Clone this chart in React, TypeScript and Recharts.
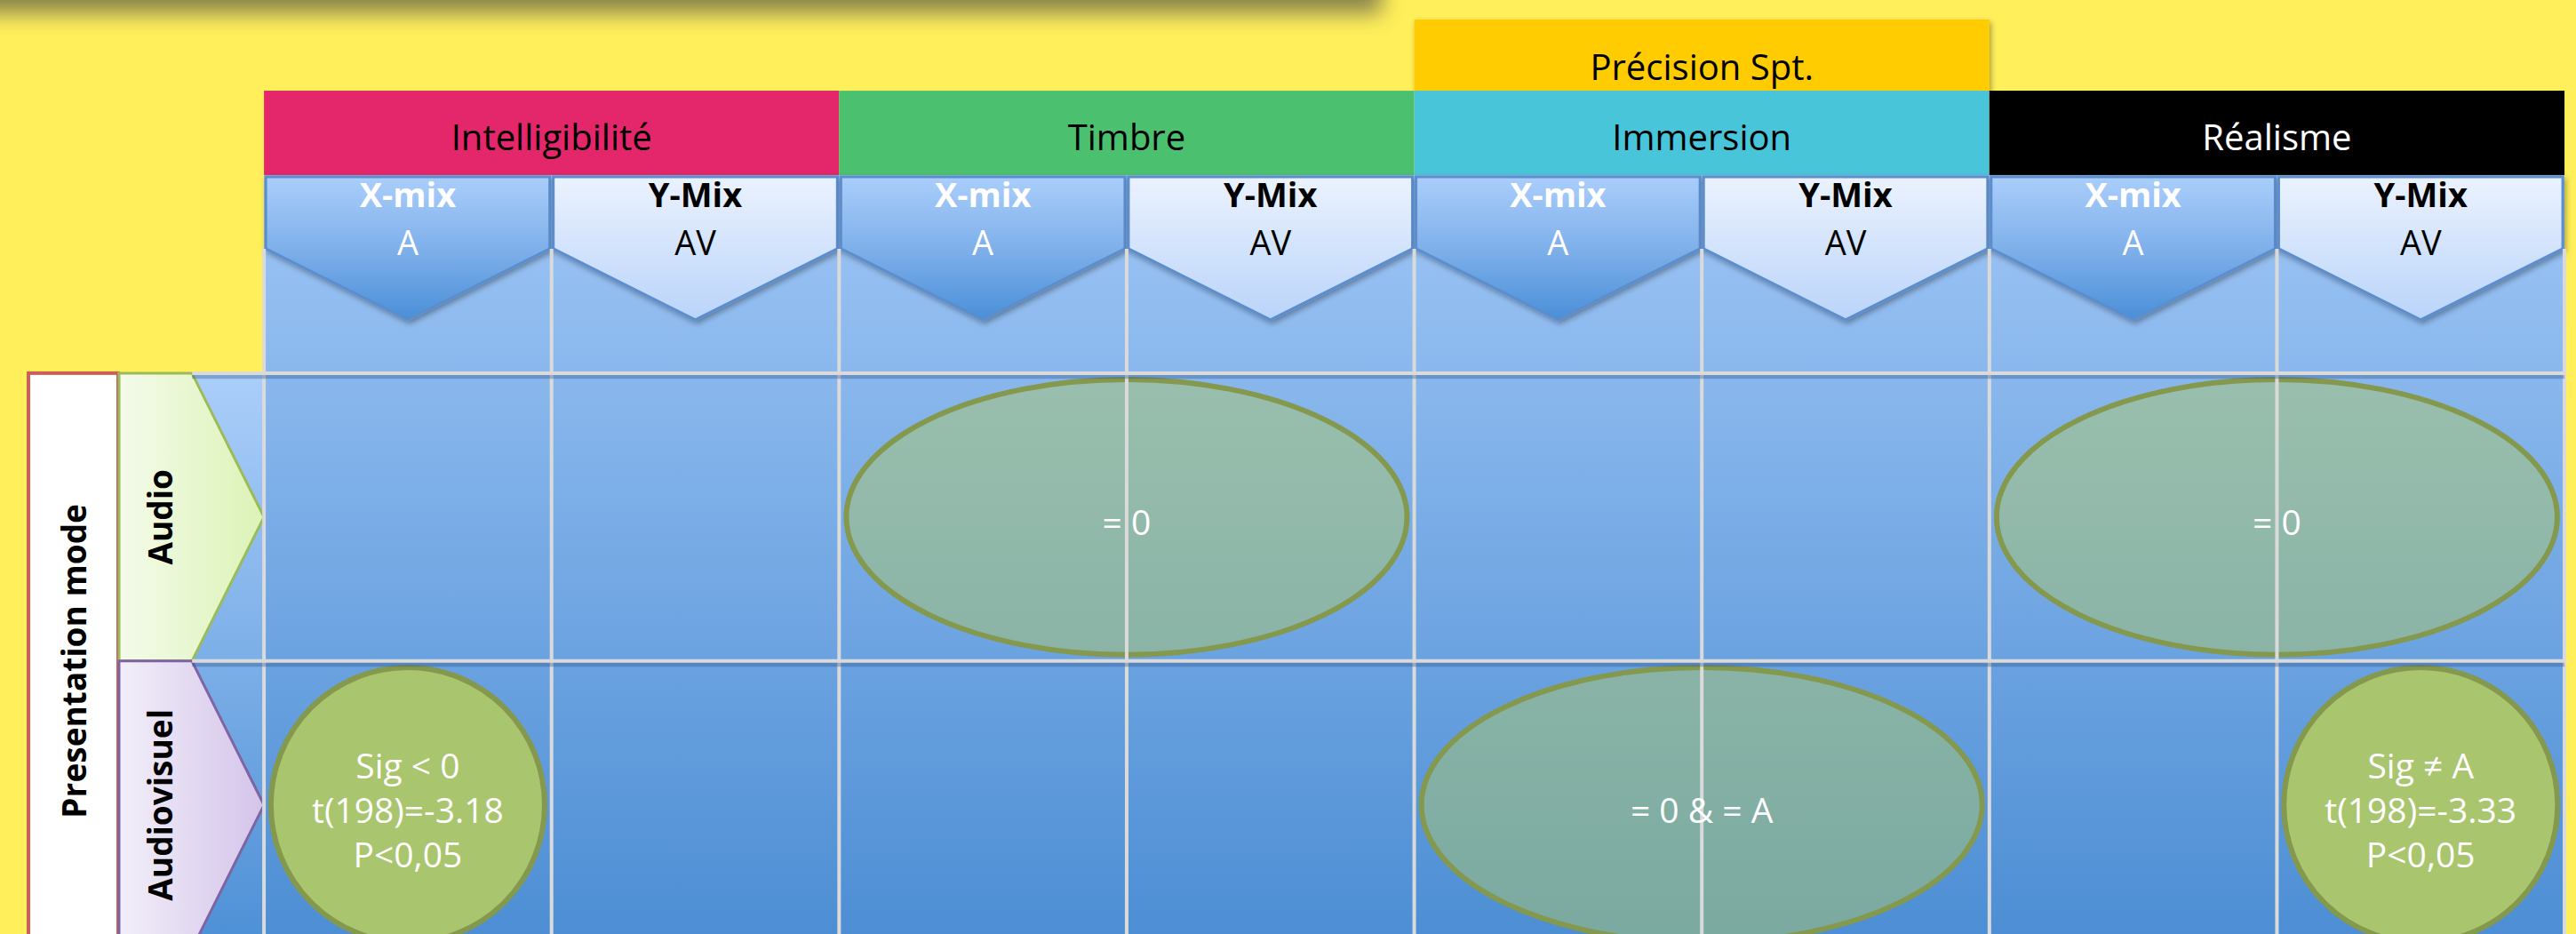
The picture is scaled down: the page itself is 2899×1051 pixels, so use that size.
import { ComposedChart, XAxis, YAxis, ReferenceArea, ReferenceLine, Scatter } from 'recharts'

// criteria (each one spans two mix columns)
const CRITERIA = ['Intelligibilité', 'Timbre', 'Immersion', 'Réalisme']
const CRITERIA_FILL = ['#E4266B', '#4BC16F', '#49C5DA', '#000000']
const CRITERIA_INK = ['#000000', '#000000', '#000000', '#FFFFFF']
const SUPER_LABEL = 'Précision Spt.'
const SUPER_OVER = 'Immersion'

const MIXES = ['X-mix', 'Y-Mix']
const MIX_MODES = ['A', 'AV']

const FACTOR = 'Presentation mode'
const MODES = ['Audio', 'Audiovisuel']
const MODE_FILL = ['url(#modeAudio)', 'url(#modeAV)']
const MODE_STROKE = ['#9BBB59', '#8064A2']

// span: 'group' covers both mixes of a criterion, 'cell' one mix only
const RESULTS = [
  { criterion: 'Timbre', mode: 'Audio', span: 'group', mix: null, kind: 'ns', lines: ['= 0'] },
  { criterion: 'Réalisme', mode: 'Audio', span: 'group', mix: null, kind: 'ns', lines: ['= 0'] },
  { criterion: 'Intelligibilité', mode: 'Audiovisuel', span: 'cell', mix: 'X-mix', kind: 'sig', lines: ['Sig < 0', 't(198)=-3.18', 'P<0,05'] },
  { criterion: 'Immersion', mode: 'Audiovisuel', span: 'group', mix: null, kind: 'ns', lines: ['= 0 & = A'] },
  { criterion: 'Réalisme', mode: 'Audiovisuel', span: 'cell', mix: 'Y-Mix', kind: 'sig', lines: ['Sig ≠ A', 't(198)=-3.33', 'P<0,05'] },
]

// layout: x unit = one mix column, y unit = one presentation-mode row
const W = 2899
const H = 1051
const X_DOMAIN: [number, number] = [-0.918, 8.04]
const Y_DOMAIN: [number, number] = [-1.296, 1.948]
const Y_SUPER = [-1.228, -0.981]
const Y_HEAD = [-0.981, -0.688]
const Y_SUB = [-0.688, 0]
const Y_CHEV_SIDE = -0.432
const X_FACTOR = [-0.819, -0.507]
const X_MODE = [-0.504, 0]
const RX = { group: 0.975, cell: 0.476 }
const RY = 0.478
const FONT = "'Open Sans', sans-serif"

const NCOL = CRITERIA.length * MIXES.length

function centerX(r: typeof RESULTS[number]) {
  const g = CRITERIA.indexOf(r.criterion) * MIXES.length
  return r.span === 'group' ? g + MIXES.length / 2 : g + MIXES.indexOf(r.mix as string) + 0.5
}

const labelPoints = RESULTS.map((r) => ({ x: centerX(r), y: MODES.indexOf(r.mode) + 0.5, lines: r.lines }))

function Defs() {
  return (
    <defs>
      <linearGradient id="gridBg" x1="0" y1="0" x2="0" y2="1">
        <stop offset="0" stopColor="#9FC6F6" />
        <stop offset="1" stopColor="#4D8ED4" />
      </linearGradient>
      <linearGradient id="stripBg" x1="0" y1="0" x2="0" y2="1">
        <stop offset="0" stopColor="#ABCEFA" />
        <stop offset="1" stopColor="#4F91D6" />
      </linearGradient>
      <linearGradient id="chevA" x1="0" y1="0" x2="0" y2="1">
        <stop offset="0" stopColor="#AACEFB" />
        <stop offset="0.5" stopColor="#7FB0EA" />
        <stop offset="1" stopColor="#4A8FD8" />
      </linearGradient>
      <linearGradient id="chevAV" x1="0" y1="0" x2="0" y2="1">
        <stop offset="0" stopColor="#EBF2FE" />
        <stop offset="1" stopColor="#BAD4FA" />
      </linearGradient>
      <linearGradient id="modeAudio" x1="0" y1="0" x2="1" y2="0">
        <stop offset="0" stopColor="#F4FBEA" />
        <stop offset="1" stopColor="#DCF3B6" />
      </linearGradient>
      <linearGradient id="modeAV" x1="0" y1="0" x2="1" y2="0">
        <stop offset="0" stopColor="#F2EFF9" />
        <stop offset="1" stopColor="#D4C4EA" />
      </linearGradient>
      <filter id="soft" x="-10%" y="-10%" width="120%" height="130%">
        <feDropShadow dx="2" dy="3" stdDeviation="3" floodColor="#000" floodOpacity="0.35" />
      </filter>
      <filter id="blurTop" x="-20%" y="-200%" width="140%" height="500%">
        <feGaussianBlur stdDeviation="12" />
      </filter>
    </defs>
  )
}

function TopShadow(p: any) {
  return (
    <g>
      <Defs />
      <rect x={p.x - 40} y={p.y - 60} width={p.width + 40} height={p.height + 60} fill="#4A4A44" opacity={0.65} filter="url(#blurTop)" />
    </g>
  )
}

function Fill(fill: string) {
  return (p: any) => <rect x={p.x} y={p.y} width={p.width} height={p.height} fill={fill} />
}

function HeadCell(label: string, fill: string, ink: string, base: number, shadow = false) {
  return (p: any) => (
    <g>
      <rect x={p.x} y={p.y} width={p.width} height={p.height} fill={fill} filter={shadow ? 'url(#soft)' : undefined} />
      <text x={p.x + p.width / 2} y={p.y + p.height * base} textAnchor="middle" fontFamily={FONT} fontSize={40} fill={ink}>
        {label}
      </text>
    </g>
  )
}

function Chevron(mix: number) {
  return (p: any) => {
    const l = p.x + 2
    const r = p.x + p.width - 2
    const t = p.y + 2
    const side = p.y + p.height * 0.372
    const tip = p.y + p.height * 0.731
    const cx = p.x + p.width / 2
    const ink = mix === 0 ? '#FFFFFF' : '#000000'
    return (
      <g>
        <polygon
          points={`${l},${t} ${r},${t} ${r},${side} ${cx},${tip} ${l},${side}`}
          fill={mix === 0 ? 'url(#chevA)' : 'url(#chevAV)'}
          stroke="#5B8DCD"
          strokeWidth={3}
          filter="url(#soft)"
        />
        <text x={cx} y={p.y + 36} textAnchor="middle" fontFamily={FONT} fontWeight={700} fontSize={38} fill={ink}>
          {MIXES[mix]}
        </text>
        <text x={cx} y={p.y + 90} textAnchor="middle" fontFamily={FONT} fontSize={38} fill={ink}>
          {MIX_MODES[mix]}
        </text>
      </g>
    )
  }
}

function FactorBox(p: any) {
  const cx = p.x + p.width / 2
  const cy = p.y + p.height / 2
  return (
    <g>
      <rect x={p.x} y={p.y} width={p.width} height={p.height} fill="#FFFFFF" stroke="#C9605A" strokeWidth={4} />
      <text x={cx} y={cy} transform={`rotate(-90 ${cx} ${cy})`} textAnchor="middle" dominantBaseline="central" fontFamily={FONT} fontWeight={700} fontSize={37} fill="#000">
        {FACTOR}
      </text>
    </g>
  )
}

function ModeTab(i: number) {
  return (p: any) => {
    const { x, y, width: w, height: h } = p
    const s = x + w * 0.503
    const tx = x + w * 0.28
    const ty = y + h / 2
    return (
      <g>
        <polygon points={`${x},${y} ${s},${y} ${x + w},${y + h / 2} ${s},${y + h} ${x},${y + h}`} fill={MODE_FILL[i]} stroke={MODE_STROKE[i]} strokeWidth={3} />
        <text x={tx} y={ty} transform={`rotate(-90 ${tx} ${ty})`} textAnchor="middle" dominantBaseline="central" fontFamily={FONT} fontWeight={700} fontSize={37} fill="#000">
          {MODES[i]}
        </text>
      </g>
    )
  }
}

function Bubble(kind: string) {
  return (p: any) => (
    <ellipse
      cx={p.x + p.width / 2}
      cy={p.y + p.height / 2}
      rx={p.width / 2}
      ry={p.height / 2}
      fill="#A9C56E"
      fillOpacity={kind === 'sig' ? 1 : 0.5}
      stroke="#84994E"
      strokeWidth={6}
    />
  )
}

function BubbleText(p: any) {
  const lines: string[] = p.payload.lines
  const n = lines.length
  return (
    <text textAnchor="middle" fontFamily={FONT} fontSize={39} fill="#FFFFFF">
      {lines.map((s, i) => (
        <tspan key={i} x={p.cx} y={p.cy + (i - (n - 1) / 2) * 50 + 5} dominantBaseline="central">
          {s}
        </tspan>
      ))}
    </text>
  )
}

export default function App() {
  const sup = CRITERIA.indexOf(SUPER_OVER) * MIXES.length
  const cols = Array.from({ length: NCOL }, (_, c) => c)
  const vlines = Array.from({ length: NCOL + 1 }, (_, c) => c)
  const hlines = MODES.map((_, i) => i)
  return (
    <div style={{ position: 'absolute', left: 0, top: 0, width: W, height: H, background: '#FFEF5B', overflow: 'hidden' }}>
      <ComposedChart width={W} height={H} margin={{ top: 0, right: 0, bottom: 0, left: 0 }}>
        <XAxis type="number" dataKey="x" domain={X_DOMAIN} hide allowDataOverflow />
        <YAxis type="number" dataKey="y" domain={Y_DOMAIN} reversed hide allowDataOverflow />

        <ReferenceArea x1={X_DOMAIN[0]} x2={3.887} y1={Y_DOMAIN[0]} y2={-1.25} ifOverflow="visible" shape={TopShadow} />

        <ReferenceArea x1={sup} x2={sup + MIXES.length} y1={Y_SUPER[0]} y2={Y_SUPER[1]} ifOverflow="visible" shape={HeadCell(SUPER_LABEL, '#FECC00', '#000', 0.85, true)} />
        {CRITERIA.map((name, i) => (
          <ReferenceArea key={name} x1={i * 2} x2={i * 2 + 2} y1={Y_HEAD[0]} y2={Y_HEAD[1]} ifOverflow="visible" shape={HeadCell(name, CRITERIA_FILL[i], CRITERIA_INK[i], 0.71)} />
        ))}

        <ReferenceArea x1={0} x2={NCOL} y1={Y_SUB[0]} y2={Y_DOMAIN[1]} ifOverflow="visible" shape={Fill('url(#gridBg)')} />
        <ReferenceArea x1={X_MODE[0]} x2={X_MODE[1]} y1={0} y2={Y_DOMAIN[1]} ifOverflow="visible" shape={Fill('url(#stripBg)')} />

        {vlines.map((c) => (
          <ReferenceLine key={'v' + c} segment={[{ x: c, y: Y_CHEV_SIDE }, { x: c, y: Y_DOMAIN[1] }]} stroke="#DADADA" strokeWidth={4} ifOverflow="visible" />
        ))}
        {hlines.map((r) => (
          <ReferenceLine key={'hs' + r} segment={[{ x: -0.25, y: r + 0.012 }, { x: NCOL, y: r + 0.012 }]} stroke="#2B4F86" strokeOpacity={0.35} strokeWidth={5} ifOverflow="visible" />
        ))}
        {hlines.map((r) => (
          <ReferenceLine key={'h' + r} segment={[{ x: -0.25, y: r }, { x: NCOL, y: r }]} stroke="#DADADA" strokeWidth={4} ifOverflow="visible" />
        ))}

        {cols.map((c) => (
          <ReferenceArea key={'c' + c} x1={c} x2={c + 1} y1={Y_SUB[0]} y2={Y_SUB[1]} ifOverflow="visible" shape={Chevron(c % MIXES.length)} />
        ))}

        <ReferenceArea x1={X_FACTOR[0]} x2={X_FACTOR[1]} y1={0} y2={MODES.length} ifOverflow="visible" shape={FactorBox} />
        {MODES.map((m, i) => (
          <ReferenceArea key={m} x1={X_MODE[0]} x2={X_MODE[1]} y1={i} y2={i + 1} ifOverflow="visible" shape={ModeTab(i)} />
        ))}

        {RESULTS.map((r, i) => {
          const cx = centerX(r)
          const cy = MODES.indexOf(r.mode) + 0.5
          const rx = RX[r.span as 'group' | 'cell']
          return <ReferenceArea key={'b' + i} x1={cx - rx} x2={cx + rx} y1={cy - RY} y2={cy + RY} ifOverflow="visible" shape={Bubble(r.kind)} />
        })}

        <Scatter data={labelPoints} isAnimationActive={false} shape={BubbleText} />
      </ComposedChart>
    </div>
  )
}
